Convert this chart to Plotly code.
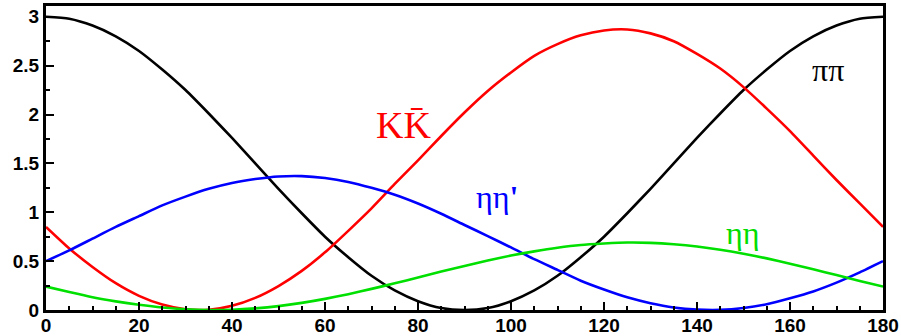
import plotly.graph_objects as go

angle = [0, 5, 10, 15, 20, 25, 30, 35, 40, 45, 50, 55, 60, 65, 70, 75, 80, 85, 90,
         95, 100, 105, 110, 115, 120, 125, 130, 135, 140, 145, 150, 155, 160, 165, 170, 175, 180]

pipi = [3.0, 2.98, 2.91, 2.80, 2.65, 2.46, 2.25, 2.01, 1.76, 1.50, 1.24, 0.99, 0.75, 0.54, 0.35, 0.20, 0.09, 0.02, 0.0,
        0.02, 0.09, 0.20, 0.35, 0.54, 0.75, 0.99, 1.24, 1.50, 1.76, 2.01, 2.25, 2.46, 2.65, 2.80, 2.91, 2.98, 3.0]
kkbar = [0.85, 0.63, 0.44, 0.274, 0.145, 0.056, 0.008, 0.003, 0.043, 0.124, 0.245, 0.40, 0.59, 0.81, 1.04, 1.29, 1.53, 1.78, 2.02,
         2.24, 2.43, 2.60, 2.72, 2.81, 2.86, 2.87, 2.83, 2.75, 2.62, 2.47, 2.28, 2.06, 1.83, 1.58, 1.33, 1.09, 0.85]
etaetap = [0.50, 0.61, 0.73, 0.85, 0.96, 1.07, 1.16, 1.24, 1.30, 1.34, 1.366, 1.37, 1.35, 1.31, 1.25, 1.18, 1.09, 0.985, 0.87,
           0.756, 0.64, 0.52, 0.41, 0.30, 0.21, 0.13, 0.07, 0.026, 0.004, 0.001, 0.02, 0.059, 0.12, 0.19, 0.28, 0.385, 0.50]
etaeta = [0.24, 0.183, 0.13, 0.088, 0.053, 0.025, 0.008, 0.0, 0.003, 0.017, 0.04, 0.073, 0.114, 0.162, 0.216, 0.273, 0.333, 0.393, 0.45,
          0.507, 0.557, 0.60, 0.637, 0.665, 0.68, 0.69, 0.687, 0.673, 0.65, 0.617, 0.576, 0.528, 0.474, 0.417, 0.357, 0.297, 0.24]

x_ticks = [0, 20, 40, 60, 80, 100, 120, 140, 160, 180]
y_ticks = [0, 0.5, 1, 1.5, 2, 2.5, 3]
y_tick_text = ["0", "0.5", "1", "1.5", "2", "2.5", "3"]

series = [
    ("ππ", pipi, "#000000"),
    ("KK̄", kkbar, "#ff0000"),
    ("ηη'", etaetap, "#0000ff"),
    ("ηη", etaeta, "#00e000"),
]

labels = [
    ("KK\u0304", 76.8, 1.89, "#ff0000", 38),
    ("ηη<b>'</b>", 97.0, 1.16, "#0000ff", 32),
    ("ηη", 149.7, 0.79, "#00dd00", 32),
    ("ππ", 168.2, 2.46, "#000000", 32),
]

fig = go.Figure()
for name, ys, col in series:
    fig.add_trace(go.Scatter(x=angle, y=ys, mode="lines", name=name,
                             line=dict(color=col, width=2.6, shape="spline", smoothing=0.6),
                             showlegend=False))

for txt, xv, yv, col, sz in labels:
    fig.add_annotation(x=xv, y=yv, text=txt, showarrow=False,
                       font=dict(family="Liberation Serif, Times New Roman, serif", size=sz, color=col))

tickfont = dict(family="Liberation Sans, Arial, sans-serif", size=19, color="#000000")
fig.update_layout(
    width=901, height=336,
    margin=dict(l=46, r=18, t=6, b=26, autoexpand=False),
    paper_bgcolor="white", plot_bgcolor="white",
    xaxis=dict(range=[0, 180], tickvals=x_ticks,
               ticktext=["<b>%d</b>" % v for v in x_ticks], automargin=False,
               ticklabelstandoff=-4,
               showline=True, mirror=True, linecolor="black", linewidth=3,
               ticks="inside", ticklen=8, tickwidth=2, tickcolor="black",
               minor=dict(dtick=5, ticks="inside", ticklen=4, tickwidth=2, tickcolor="black"),
               showgrid=False, zeroline=False, tickfont=tickfont),
    yaxis=dict(range=[0, 3.11], tickvals=y_ticks,
               ticktext=["<b>%s</b>" % s for s in y_tick_text], automargin=False,
               showline=True, mirror=True, linecolor="black", linewidth=3,
               ticks="inside", ticklen=8, tickwidth=2, tickcolor="black",
               minor=dict(dtick=0.25, ticks="inside", ticklen=4, tickwidth=2, tickcolor="black"),
               showgrid=False, zeroline=False, tickfont=tickfont),
)

fig.write_html("out.html", config={"displayModeBar": False},
               post_script="document.body.style.margin='0';document.body.style.overflow='hidden';")
